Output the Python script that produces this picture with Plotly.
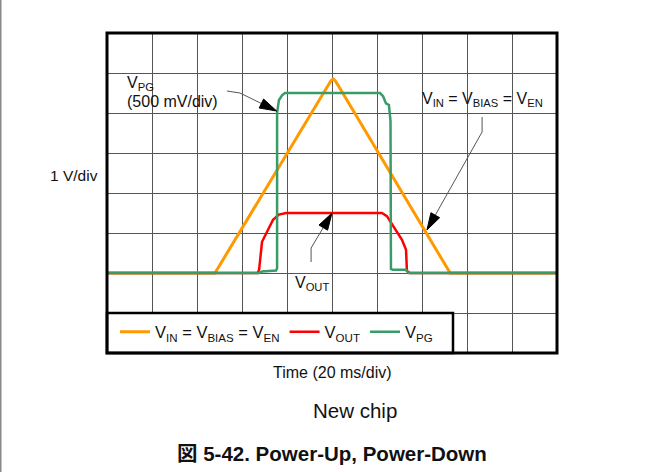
import plotly.graph_objects as go

# Oscilloscope capture: power-up / power-down sequence
# Horizontal: time in ms (20 ms/div), vertical: volts (1 V/div; VPG at 500 mV/div)
t_vin = [0, 48, 97.5, 99.5, 100.5, 101.5, 103.5, 152.5, 200]
v_vin = [0, 0, 4.62, 4.8, 4.85, 4.8, 4.62, 0, 0]

t_vout = [0, 67, 67.6, 68.4, 68.9, 73.8, 76.4, 79.6, 122.2, 124.4, 125.8,
          131.1, 132.9, 133.3, 134.7, 200]
v_vout = [0, 0, 0.08, 0.58, 0.78, 1.33, 1.46, 1.5, 1.5, 1.42, 1.3,
          0.83, 0.58, 0.05, 0, 0]

t_vpg = [0, 67.6, 68.9, 75.1, 75.6, 75.6, 76.4, 77.8, 79.1, 121.3, 122.7,
         124.0, 125.3, 125.8, 126.0, 126.2, 127.0, 132.9, 134.2, 200]
v_vpg = [0, 0, 0.02, 0.03, 0.06, 2.0, 2.16, 2.22, 2.25, 2.25, 2.21,
         2.12, 2.1, 2.0, 1.9, 0.05, 0.04, 0.04, 0, 0]

x_range = [0, 200]     # 10 divisions x 20 ms
y_range = [-2, 6]      # 8 divisions x 1 V
y2_range = [-1, 3]     # 8 divisions x 0.5 V

W, H = 664, 472
ML, MR, MT, MB = 107, 107, 33, 119
PW, PH = W - ML - MR, H - MT - MB
PX_PER_X = PW / (x_range[1] - x_range[0])
PX_PER_Y = PH / (y_range[1] - y_range[0])

FONT = "Arial, 'Liberation Sans', 'Noto Sans CJK JP', sans-serif"
TXT = "#111111"
C_VIN, C_VOUT, C_VPG = "#FF9900", "#FF0000", "#389B68"

fig = go.Figure()
fig.add_trace(go.Scatter(x=t_vin, y=v_vin, mode="lines",
                         line=dict(color=C_VIN, width=3),
                         name="V<sub>IN</sub> = V<sub>BIAS</sub> = V<sub>EN</sub>"))
fig.add_trace(go.Scatter(x=t_vout, y=v_vout, mode="lines",
                         line=dict(color=C_VOUT, width=2.5),
                         name="V<sub>OUT</sub>"))
fig.add_trace(go.Scatter(x=t_vpg, y=v_vpg, mode="lines", yaxis="y2",
                         line=dict(color=C_VPG, width=2.5),
                         name="V<sub>PG</sub>"))


def leader(points, tail, tip, head_len=17, half_w=5):
    """Polyline callout ending in a filled arrowhead (drawn in screen units)."""
    shapes = []
    pts = list(points) + [tip]
    dxp = (tip[0] - tail[0]) * PX_PER_X
    dyp = (tip[1] - tail[1]) * PX_PER_Y
    n = (dxp ** 2 + dyp ** 2) ** 0.5
    ux, uy = dxp / n, dyp / n
    bx = tip[0] - ux * head_len / PX_PER_X
    by = tip[1] - uy * head_len / PX_PER_Y
    path = "M" + " L".join(f"{p[0]},{p[1]}" for p in pts[:-1]) + f" L{bx},{by}"
    shapes.append(dict(type="path", path=path, xref="x", yref="y",
                       line=dict(color="#555555", width=1)))
    px_, py_ = -uy, ux
    c1 = (bx + px_ * half_w / PX_PER_X, by + py_ * half_w / PX_PER_Y)
    c2 = (bx - px_ * half_w / PX_PER_X, by - py_ * half_w / PX_PER_Y)
    head = f"M{tip[0]},{tip[1]} L{c1[0]},{c1[1]} L{c2[0]},{c2[1]} Z"
    shapes.append(dict(type="path", path=head, xref="x", yref="y",
                       fillcolor="black", line=dict(color="black", width=1)))
    return shapes


shapes = []
# callouts
shapes += leader([(53.3, 4.55), (59.1, 4.5)], (59.1, 4.5), (75.4, 4.05))
shapes += leader([(166.7, 3.9), (166.7, 3.525)], (166.7, 3.525), (142.2, 1.075))
shapes += leader([(90.7, 0.275), (90.7, 0.625)], (90.7, 0.625), (100.0, 1.5))

# legend panel
shapes.append(dict(type="rect", xref="paper", yref="paper",
                   x0=0, x1=346 / PW, y0=0, y1=40 / PH,
                   fillcolor="white", line=dict(color="black", width=2.5),
                   layer="above"))
# outer frame
shapes.append(dict(type="rect", xref="paper", yref="paper",
                   x0=0, x1=1, y0=0, y1=1,
                   line=dict(color="black", width=3), layer="above"))
# page edge rule
shapes.append(dict(type="line", xref="paper", yref="paper",
                   x0=-(ML - 0.75) / PW, x1=-(ML - 0.75) / PW,
                   y0=-MB / PH, y1=(PH + MT) / PH,
                   line=dict(color="#888888", width=1.5)))


def note(text, x, y, size, ref="data", xanchor="center"):
    r = ("x", "y") if ref == "data" else ("paper", "paper")
    return dict(x=x, y=y, xref=r[0], yref=r[1], xanchor=xanchor,
                yanchor="middle", text=text, showarrow=False,
                font=dict(size=size, color=TXT, family=FONT))


ann = [
    note("V<sub>PG</sub>", 8, 4.75, 16, xanchor="left"),
    note("(500 mV/div)", 8, 4.3, 16, xanchor="left"),
    note("V<sub>IN</sub> = V<sub>BIAS</sub> = V<sub>EN</sub>", 167.1, 4.33, 16),
    note("V<sub>OUT</sub>", 90.9, -0.25, 16),
    note("1 V/div", -7 / PW, (353 - 175) / PH, 15.5, ref="paper",
         xanchor="right"),
    note("Time (20 ms/div)", 0.5, -19 / PH, 16, ref="paper"),
    note("New chip", 248 / PW, -57 / PH, 20.5, ref="paper"),
    note("<b>図 5-42. Power-Up, Power-Down</b>", 0.5, -100 / PH, 20.5,
         ref="paper"),
]

grid = dict(showgrid=True, gridcolor="#555555", gridwidth=1, zeroline=False,
            showticklabels=False, ticks="", showline=False)

fig.update_layout(
    width=W, height=H,
    margin=dict(l=ML, r=MR, t=MT, b=MB),
    paper_bgcolor="white", plot_bgcolor="white",
    xaxis=dict(range=x_range, dtick=20, tick0=0, **grid),
    yaxis=dict(range=y_range, dtick=1, tick0=0, **grid),
    yaxis2=dict(range=y2_range, overlaying="y", showgrid=False, zeroline=False,
                showticklabels=False, ticks="", showline=False),
    showlegend=True,
    legend=dict(orientation="h", x=8 / PW, y=21 / PH, xanchor="left",
                yanchor="middle", bgcolor="rgba(0,0,0,0)", borderwidth=0,
                font=dict(size=16.5, color=TXT, family=FONT),
                itemclick=False, itemdoubleclick=False),
    shapes=shapes,
    annotations=ann,
)

fig.write_html("out.html")
